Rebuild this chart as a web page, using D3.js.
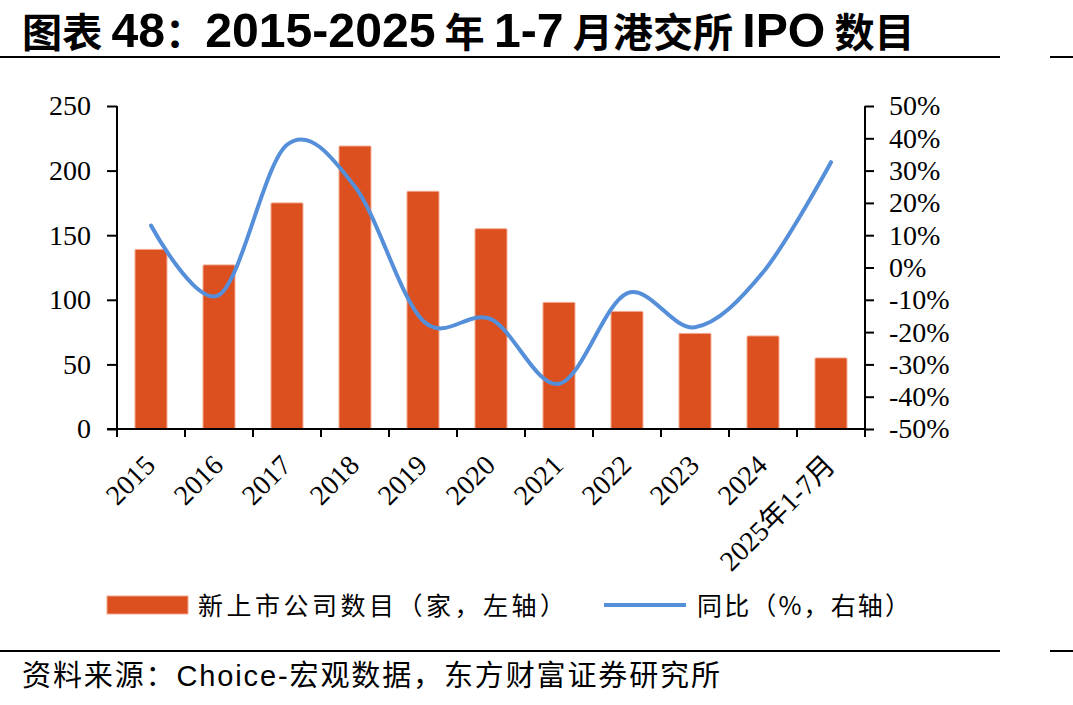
<!DOCTYPE html>
<html>
<head>
<meta charset="utf-8">
<script src="https://cdn.jsdelivr.net/npm/d3@7"></script>
<style>
  body { margin: 0; background: #fff; }
  svg { display: block; }
</style>
</head>
<body>
<div id="chart"></div>
<script>
// Data
const categories = ["2015", "2016", "2017", "2018", "2019", "2020", "2021", "2022", "2023", "2024", "2025年1-7月"];
const ipoCount = [139, 127, 175, 219, 184, 155, 98, 91, 74, 72, 55];
const yoyPct = [13, -8.5, 38, 25, -16.5, -16, -36, -8, -18.5, -1.5, 32.6];
const leftTicks = [0, 50, 100, 150, 200, 250];
const rightTicks = [-50, -40, -30, -20, -10, 0, 10, 20, 30, 40, 50];

const W = 1073, H = 705;
const plot = { left: 117, right: 865, top: 106, bottom: 429 };
const barColor = "#DC4F1F";
const lineColor = "#568FD9";
const serif = "'Liberation Serif', 'Times New Roman', serif";
const cjk = "'Noto Sans CJK SC', sans-serif";

const svg = d3.select("#chart").append("svg")
  .attr("width", W).attr("height", H);

// Title
const title = svg.append("text")
  .attr("y", 47)
  .style("font-weight", "bold")
  .style("font-family", "'Liberation Sans', " + cjk);
const parts = [["图表 ", true], ["48", false], ["：", true], ["2015-2025", false], [" 年 ", true],
  ["1-7", false], [" 月港交所 ", true], ["IPO", false], [" 数目", true]];
parts.forEach(([t, isCjk]) => {
  title.append("tspan")
    .style("font-family", isCjk ? cjk : "'Liberation Sans', sans-serif")
    .style("font-size", isCjk ? "40px" : "48px")
    .text(t);
});
const tw = title.node().getComputedTextLength();
title.attr("transform", `translate(22,0) scale(${893 / tw},1)`);

// Rules
[[57, 0, 1000], [57, 1050, 1073], [651, 0, 1000], [651, 1050, 1073]].forEach(([y, x1, x2]) => {
  svg.append("line").attr("x1", x1).attr("x2", x2).attr("y1", y).attr("y2", y)
    .attr("stroke", "#000").attr("stroke-width", 2);
});

// Scales
const x = d3.scaleBand().domain(categories).range([plot.left, plot.right]).paddingInner(0.53).paddingOuter(0.265);
const xEdge = d3.scaleBand().domain(categories).range([plot.left, plot.right]);
const yL = d3.scaleLinear().domain([0, 250]).range([plot.bottom, plot.top]);
const yR = d3.scaleLinear().domain([-50, 50]).range([plot.bottom, plot.top]);

// Bars
svg.append("g").selectAll("rect")
  .data(categories)
  .join("rect")
  .attr("x", d => x(d))
  .attr("width", x.bandwidth())
  .attr("y", (d, i) => yL(ipoCount[i]))
  .attr("height", (d, i) => plot.bottom - yL(ipoCount[i]))
  .attr("fill", barColor)
  .attr("stroke", "#F2A88C")
  .attr("stroke-width", 1)
  .attr("rx", 1);

// Left axis
const axL = svg.append("g").attr("transform", `translate(${plot.left},0)`)
  .call(d3.axisLeft(yL).tickValues(leftTicks).tickSize(10).tickPadding(16));
// Right axis
const axR = svg.append("g").attr("transform", `translate(${plot.right},0)`)
  .call(d3.axisRight(yR).tickValues(rightTicks).tickSize(9).tickFormat(d => d + "%").tickPadding(15));
// X axis (ticks at category boundaries)
const axX = svg.append("g").attr("transform", `translate(0,${plot.bottom})`)
  .call(d3.axisBottom(xEdge).tickSize(8).tickFormat(""));
axX.selectAll(".tick").attr("transform", d => `translate(${xEdge(d)},0)`);
axX.append("line").attr("x1", plot.right).attr("x2", plot.right).attr("y1", 0).attr("y2", 8).attr("stroke", "#000").attr("stroke-width", 2);

[axL, axR, axX].forEach(g => {
  g.select(".domain").attr("stroke", "#000").attr("stroke-width", 2);
  g.selectAll(".tick line").attr("stroke", "#000").attr("stroke-width", 2);
  g.selectAll("text").attr("fill", "#000").style("font-family", serif).style("font-size", "28px");
});
axL.select(".domain").attr("d", `M0,${plot.top}V${plot.bottom}`);
axR.select(".domain").attr("d", `M0,${plot.top}V${plot.bottom + 8}`);
axX.select(".domain").attr("d", `M${plot.left - 10},0H${plot.right}`);
axR.selectAll("text").attr("text-anchor", "start");

// X labels rotated
svg.append("g").selectAll("text")
  .data(categories)
  .join("text")
  .attr("transform", d => `translate(${x(d) + x.bandwidth() / 2 - 8},${plot.bottom + 24}) rotate(-45)`)
  .attr("text-anchor", "end")
  .attr("dy", "0.7em")
  .style("font-family", serif + ", " + cjk)
  .style("font-size", "28px")
  .text(d => d);

// YoY line
const line = d3.line()
  .x((d, i) => x(categories[i]) + x.bandwidth() / 2)
  .y(d => yR(d))
  .curve(d3.curveCatmullRom.alpha(0));
svg.append("path")
  .datum(yoyPct)
  .attr("d", line)
  .attr("fill", "none")
  .attr("stroke", lineColor)
  .attr("stroke-width", 4)
  .attr("stroke-linecap", "round");

// Legend
const leg = svg.append("g");
leg.append("rect").attr("x", 107).attr("y", 596).attr("width", 81).attr("height", 18).attr("fill", barColor)
  .attr("stroke", "#F2A88C").attr("stroke-width", 1);
leg.append("text").attr("x", 198).attr("y", 615)
  .style("font-family", cjk).style("font-size", "25px")
  .attr("textLength", 367).attr("lengthAdjust", "spacing")
  .text("新上市公司数目（家，左轴）");
leg.append("line").attr("x1", 604).attr("x2", 686).attr("y1", 605).attr("y2", 605)
  .attr("stroke", lineColor).attr("stroke-width", 4);
leg.append("text").attr("x", 697).attr("y", 615)
  .style("font-family", cjk).style("font-size", "25px")
  .attr("textLength", 213).attr("lengthAdjust", "spacing")
  .text("同比（%，右轴）");

// Source
svg.append("text").attr("x", 22).attr("y", 686)
  .style("font-family", "'Liberation Sans', " + cjk).style("font-size", "29px")
  .attr("textLength", 698).attr("lengthAdjust", "spacing")
  .text("资料来源：Choice-宏观数据，东方财富证券研究所");
</script>
</body>
</html>
